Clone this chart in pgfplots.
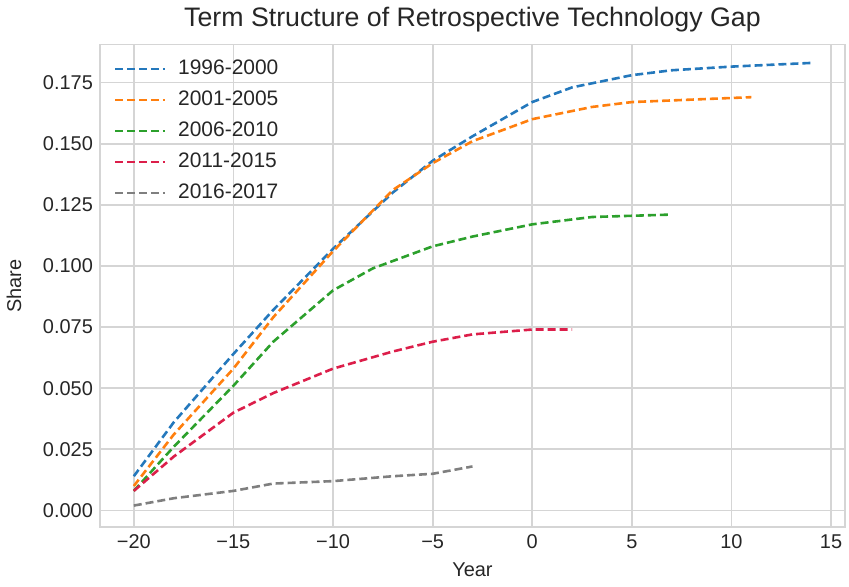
\documentclass[border=0pt]{standalone}
\usepackage{pgfplots}
\pgfplotsset{compat=1.18}
\usepackage{fontspec}
\setmainfont{Liberation Sans}
\definecolor{cblue}{HTML}{2478BC}
\definecolor{corange}{HTML}{FF7F0E}
\definecolor{cgreen}{HTML}{2CA02C}
\definecolor{cred}{HTML}{DC1E4A}
\definecolor{cgray}{HTML}{7F7F7F}
\definecolor{gridc}{HTML}{D5D5D5}
\definecolor{txt}{HTML}{262626}
\begin{document}
\begin{tikzpicture}
\begin{axis}[
  name=ax,
  scale only axis,
  width=373.5pt, height=242pt,
  xmin=-21.7, xmax=15.7,
  ymin=-0.0069, ymax=0.1905,
  xtick={-20,-15,...,15},
  xticklabels={−20,−15,−10,−5,0,5,10,15},
  ytick={0,0.025,...,0.175},
  yticklabel style={/pgf/number format/.cd,fixed,fixed zerofill,precision=3},
  /pgf/number format/assume math mode=true,
  ticklabel style={font=\fontsize{10}{12}\selectfont, color=txt},
  major tick length=0pt,
  xtick style={draw=none}, ytick style={draw=none},
  grid=major,
  grid style={gridc, line width=0.9pt},
  axis line style={gridc, line width=0.9pt},
  title={Term Structure of Retrospective Technology Gap},
  title style={font=\fontsize{13.4}{15}\selectfont, color=txt, yshift=-3pt},
  xlabel={Year}, ylabel={Share},
  label style={font=\fontsize{10}{12}\selectfont, color=txt},
  xlabel style={yshift=-0.5pt},
  ylabel style={yshift=4pt},
  legend style={at={(0.01,0.985)}, anchor=north west, draw=none, fill=none,
    font=\fontsize{10.5}{12}\selectfont, text=txt, row sep=2.7pt},
  legend cell align=left,
  legend image code/.code={\draw[#1] (0pt,0pt) -- (25pt,0pt);},
  every axis legend/.append style={nodes={inner xsep=6pt}},
  every axis plot/.append style={line width=1.3pt, dash pattern=on 4pt off 2pt},
]
\addplot[cblue] coordinates {(-20,0.014) (-18,0.036) (-15,0.064) (-13,0.082) (-10,0.107) (-7,0.130) (-5,0.143) (-3,0.153) (0,0.167) (2,0.173) (5,0.178) (7,0.180) (10,0.1815) (14,0.183)};
\addlegendentry{1996-2000}
\addplot[corange] coordinates {(-20,0.010) (-18,0.031) (-15,0.058) (-13,0.079) (-10,0.106) (-7,0.131) (-5,0.142) (-3,0.151) (0,0.160) (3,0.165) (5,0.167) (8,0.168) (11,0.169)};
\addlegendentry{2001-2005}
\addplot[cgreen] coordinates {(-20,0.008) (-18,0.026) (-15,0.051) (-13,0.069) (-10,0.090) (-8,0.099) (-5,0.108) (-3,0.112) (0,0.117) (3,0.120) (5,0.1205) (7,0.121)};
\addlegendentry{2006-2010}
\addplot[cred] coordinates {(-20,0.008) (-18,0.022) (-15,0.040) (-13,0.048) (-10,0.058) (-7,0.065) (-5,0.069) (-3,0.072) (0,0.074) (2,0.074)};
\addlegendentry{2011-2015}
\addplot[cgray] coordinates {(-20,0.002) (-18,0.005) (-15,0.008) (-13,0.011) (-10,0.012) (-7,0.014) (-5,0.015) (-3,0.018)};
\addlegendentry{2016-2017}
\end{axis}
\path ([xshift=-49pt,yshift=-29.5pt]ax.south west) rectangle ([xshift=2pt,yshift=19pt]ax.north east);
\end{tikzpicture}
\end{document}
